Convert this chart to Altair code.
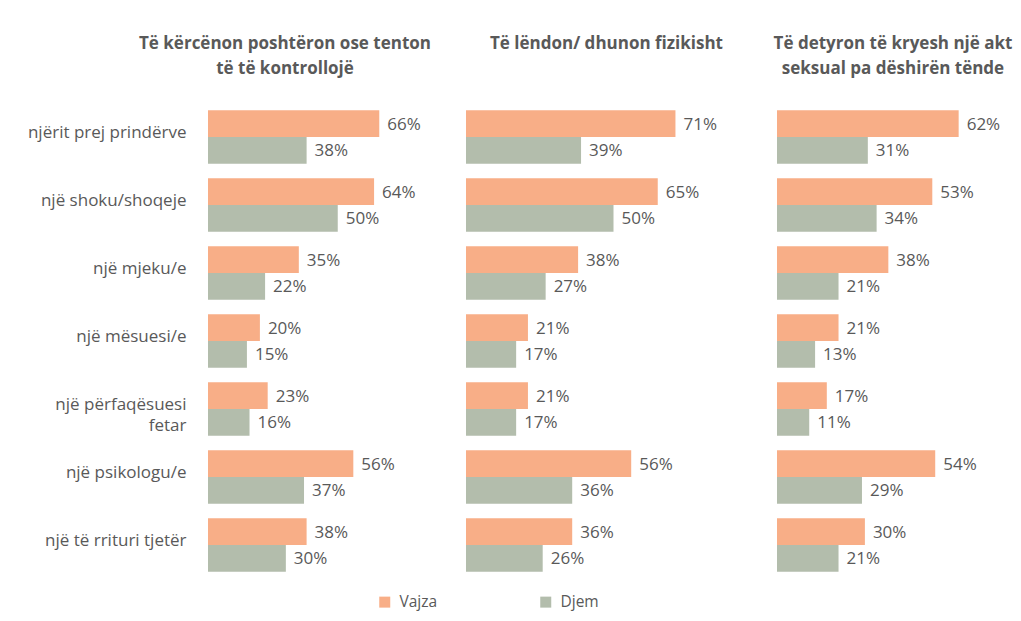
import altair as alt
import pandas as pd

categories = ["njërit prej prindërve", "një shoku/shoqeje", "një mjeku/e", "një mësuesi/e",
              "një përfaqësuesi fetar", "një psikologu/e", "një të rrituri tjetër"]
genders = ["Vajza", "Djem"]
panel_titles = [
    ["Të kërcënon poshtëron ose tenton", "të të kontrollojë"],
    ["Të lëndon/ dhunon fizikisht", " "],
    ["Të detyron të kryesh një akt", "seksual pa dëshirën tënde"],
]
vajza = [
    [66, 64, 35, 20, 23, 56, 38],
    [71, 65, 38, 21, 21, 56, 36],
    [62, 53, 38, 21, 17, 54, 30],
]
djem = [
    [38, 50, 22, 15, 16, 37, 30],
    [39, 50, 27, 17, 17, 36, 26],
    [31, 34, 21, 13, 11, 29, 21],
]

rows = []
for p in range(3):
    for i, c in enumerate(categories):
        rows.append({"panel": p, "cat": c, "g": "Vajza", "v": vajza[p][i]})
        rows.append({"panel": p, "cat": c, "g": "Djem", "v": djem[p][i]})
df = pd.DataFrame(rows)
df["lbl"] = df["v"].astype(str) + "%"

FONT = "Open Sans"
GRAY = "#595959"
colors = ["#F8AE87", "#B3BDAC"]

widths = [238, 287, 222]
dmax = [238 / 2.595, 287 / 2.95, 222 / 2.93]
dxs = [-42, -3, 5]
H = 476
PT = 27

def panel(p):
    base = alt.Chart(df).transform_filter(alt.datum.panel == p)
    if p == 0:
        yaxis = alt.Axis(title=None, domain=False, ticks=False, labelFont=FONT, labelFontSize=17,
                         labelColor=GRAY, labelPadding=22, minExtent=200, maxExtent=200,
                         labelLimit=260, labelLineHeight=21, labelOffset=-4,
                         labelExpr="datum.label == 'një përfaqësuesi fetar' ? ['një përfaqësuesi', 'fetar'] : datum.label")
    else:
        yaxis = None
    y = alt.Y("cat:N", sort=categories, axis=yaxis,
              scale=alt.Scale(paddingInner=0.216, paddingOuter=0.108))
    x = alt.X("v:Q", axis=None, scale=alt.Scale(domain=[0, dmax[p]], nice=False, zero=True))
    yoff = alt.YOffset("g:N", sort=genders, scale=alt.Scale(paddingInner=0, paddingOuter=0))
    bars = base.mark_bar(cornerRadius=0).encode(
        y=y, x=x, yOffset=yoff,
        color=alt.Color("g:N", sort=genders,
                        scale=alt.Scale(domain=genders, range=colors),
                        legend=alt.Legend(title=None, orient="none", direction="horizontal",
                                          legendX=169, legendY=491, symbolType="square",
                                          symbolSize=121, symbolStrokeWidth=0,
                                          labelFont=FONT, labelFontSize=15.5, labelColor=GRAY,
                                          columnPadding=100, labelOffset=7, padding=0)),
    )
    text = base.mark_text(align="left", baseline="middle", dx=8, dy=1, font=FONT, fontSize=17,
                          color=GRAY).encode(y=y, x=x, yOffset=yoff, text="lbl:N")
    return alt.layer(bars, text).properties(
        width=widths[p], height=H,
        title=alt.Title(text=panel_titles[p], frame="group", anchor="middle", dx=dxs[p],
                        font=FONT, fontSize=17, fontWeight="bold", color=GRAY,
                        lineHeight=25, offset=25),
    )

chart = alt.hconcat(panel(0), panel(1), panel(2), spacing=20).properties(
    padding={"left": 0, "top": PT, "right": 0, "bottom": 0}
).configure_view(stroke=None)

chart.save("out.html", embed_options={"renderer": "svg", "actions": False})
